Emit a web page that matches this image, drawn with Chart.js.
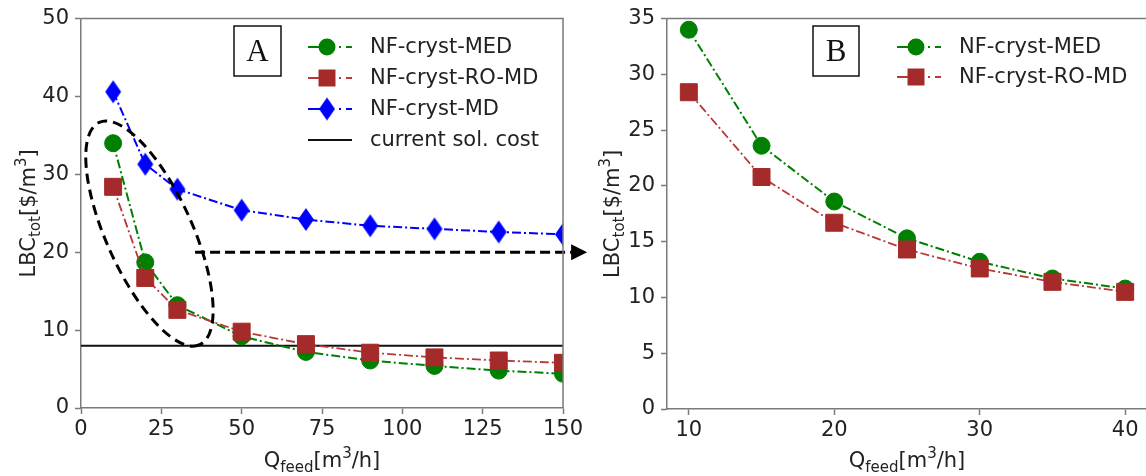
<!DOCTYPE html>
<html><head><meta charset="utf-8">
<script src="https://cdn.jsdelivr.net/npm/chart.js@4.4.0/dist/chart.umd.min.js"></script>
<style>
html,body{margin:0;padding:0;width:1146px;height:476px;overflow:hidden;background:#fff;}
#ca{position:absolute;left:0;top:0;}
#cb{position:absolute;left:580px;top:0;}
</style></head><body>
<canvas id="ca" width="600" height="476"></canvas>
<canvas id="cb" width="580" height="476"></canvas>
<script>
// ---- data ----
const qFeedA = [10, 20, 30, 50, 70, 90, 110, 130, 150];
const medA   = [34.0, 18.7, 13.2, 9.2, 7.2, 6.1, 5.4, 4.8, 4.4];
const roMdA  = [28.4, 16.7, 12.6, 9.8, 8.2, 7.1, 6.5, 6.1, 5.8];
const mdA    = [40.6, 31.3, 28.1, 25.4, 24.2, 23.4, 23.0, 22.6, 22.3];
const currentSolCost = 8;
const qFeedB = [10, 15, 20, 25, 30, 35, 40];
const medB   = [34.0, 23.6, 18.6, 15.3, 13.2, 11.7, 10.8];
const roMdB  = [28.4, 20.8, 16.7, 14.3, 12.6, 11.4, 10.5];
const xTicksA = [0, 25, 50, 75, 100, 125, 150];
const yTicksA = [0, 10, 20, 30, 40, 50];
const xTicksB = [10, 20, 30, 40];
const yTicksB = [0, 5, 10, 15, 20, 25, 30, 35];
const seriesNames = ['NF-cryst-MED', 'NF-cryst-RO-MD', 'NF-cryst-MD', 'current sol. cost'];
const panelLabels = ['A', 'B'];

// ---- styles ----
const SPINE = '#7a7a7a', TXT = '#222';
const FONT = '"DejaVu Sans"';
const DASHDOT = [9, 3, 2, 3];
const GREEN = '#008000', RED = '#a52a2a', REDLINE = '#b83838', BLUE = '#0000ff';

function diamondImg(w, h, fill) {
  const c = document.createElement('canvas');
  c.width = w + 2; c.height = h + 2;
  const g = c.getContext('2d');
  g.beginPath();
  g.moveTo(c.width / 2, 1); g.lineTo(c.width - 1, c.height / 2);
  g.lineTo(c.width / 2, c.height - 1); g.lineTo(1, c.height / 2);
  g.closePath(); g.fillStyle = fill; g.fill();
  return c;
}
const DIAMOND = diamondImg(16, 23, BLUE);

const pts = (xs, ys) => xs.map((x, i) => ({x, y: ys[i]}));

const styleMED = {color: GREEN, line: GREEN, marker: 'circle', r: 8.5, bw: 2};
const styleRO  = {color: RED, line: REDLINE, marker: 'rect', r: 12, bw: 1.8};
const styleMD  = {color: BLUE, line: BLUE, marker: DIAMOND, r: 12, bw: 2};

function ds(label, data, st, order) {
  return {
    label, data, order, showLine: true,
    borderColor: st.line, borderWidth: st.bw, borderDash: DASHDOT,
    pointStyle: st.marker, pointRadius: st.r, pointHoverRadius: st.r,
    pointBackgroundColor: st.color, pointBorderColor: st.color, pointBorderWidth: 1
  };
}

function richWidth(ctx, parts) {
  let w = 0;
  for (const p of parts) { ctx.font = p.s + 'px ' + FONT; w += ctx.measureText(p.t).width; }
  return w;
}
function drawRich(ctx, parts, cx, cy, rot) {
  ctx.save();
  ctx.translate(cx, cy);
  if (rot) ctx.rotate(-Math.PI / 2);
  const w = richWidth(ctx, parts);
  let x = -w / 2;
  ctx.textBaseline = 'alphabetic'; ctx.textAlign = 'left'; ctx.fillStyle = TXT;
  for (const p of parts) {
    ctx.font = p.s + 'px ' + FONT;
    ctx.fillText(p.t, x, p.dy || 0);
    x += ctx.measureText(p.t).width;
  }
  ctx.restore();
}
const yTitle = [{t: 'LBC', s: 21}, {t: 'tot', s: 15, dy: 5}, {t: '[$/m', s: 21}, {t: '3', s: 15, dy: -9}, {t: ']', s: 21}];
const xTitle = [{t: 'Q', s: 21}, {t: 'feed', s: 15, dy: 5}, {t: '[m', s: 21}, {t: '3', s: 15, dy: -9}, {t: '/h]', s: 21}];

function drawMarker(ctx, st, x, y) {
  ctx.save();
  ctx.fillStyle = st.color;
  if (st.marker === 'circle') {
    ctx.beginPath(); ctx.arc(x, y, st.r, 0, Math.PI * 2); ctx.fill();
  } else if (st.marker === 'rect') {
    const s = st.r * Math.SQRT1_2;
    ctx.fillRect(x - s, y - s, 2 * s, 2 * s);
  } else {
    ctx.drawImage(st.marker, x - st.marker.width / 2, y - st.marker.height / 2);
  }
  ctx.restore();
}
function drawLegend(ctx, items, x0, y0, dy) {
  items.forEach((it, i) => {
    const y = y0 + i * dy;
    ctx.save();
    ctx.strokeStyle = it.st ? it.st.line : '#111';
    ctx.lineWidth = 2;
    ctx.setLineDash(it.st ? [26, 5, 2, 5] : []);
    ctx.beginPath(); ctx.moveTo(x0, y); ctx.lineTo(x0 + 44, y); ctx.stroke();
    ctx.restore();
    if (it.st) drawMarker(ctx, it.st, x0 + 19, y);
    ctx.save();
    ctx.font = '21px ' + FONT; ctx.fillStyle = TXT;
    ctx.textBaseline = 'middle'; ctx.textAlign = 'left';
    ctx.fillText(it.label, x0 + 62, y + 1);
    ctx.restore();
  });
}
function drawBox(ctx, letter, x, y, w, h) {
  ctx.save();
  ctx.strokeStyle = '#111'; ctx.lineWidth = 1.5;
  ctx.strokeRect(x, y, w, h);
  ctx.font = '31px "Liberation Serif"'; ctx.fillStyle = '#111';
  ctx.textAlign = 'center'; ctx.textBaseline = 'middle';
  ctx.fillText(letter, x + w / 2, y + h / 2 + 2);
  ctx.restore();
}
function drawSpines(chart) {
  const {ctx, chartArea: a} = chart;
  ctx.save();
  ctx.strokeStyle = SPINE; ctx.lineWidth = 1.5;
  ctx.beginPath();
  ctx.moveTo(a.left, a.top); ctx.lineTo(a.right, a.top); ctx.lineTo(a.right, a.bottom);
  ctx.stroke();
  ctx.restore();
}

function axisOpts(min, max, ticksArr, isX, size) {
  return {
    type: 'linear', min, max,
    afterBuildTicks: s => { s.ticks = ticksArr.map(v => ({value: v})); },
    afterFit: s => { if (isX) s.height = size; else s.width = size; },
    grid: {drawOnChartArea: false, drawTicks: true, tickLength: 6, tickWidth: 1.5, tickColor: SPINE, color: SPINE},
    border: {display: true, color: SPINE, width: 1.5},
    ticks: {color: TXT, font: {family: 'DejaVu Sans', size: 21}, padding: isX ? 3 : 6, maxRotation: 0, autoSkip: false}
  };
}

const annoA = {
  id: 'annoA',
  afterDatasetsDraw(chart) {
    const {ctx, scales: {x, y}} = chart;
    // dashed ellipse around the low-flow region
    ctx.save();
    ctx.strokeStyle = '#000'; ctx.lineWidth = 3; ctx.setLineDash([10, 6]);
    ctx.beginPath();
    ctx.ellipse(x.getPixelForValue(21.3), y.getPixelForValue(22.4), 122, 43, 65.7 * Math.PI / 180, 0, Math.PI * 2);
    ctx.stroke();
    // dashed arrow to panel B
    const ay = y.getPixelForValue(20);
    const x1 = x.getPixelForValue(35.5), tip = x.getPixelForValue(157.5);
    ctx.setLineDash([10, 5]);
    ctx.beginPath(); ctx.moveTo(x1, ay); ctx.lineTo(tip - 14, ay); ctx.stroke();
    ctx.setLineDash([]);
    ctx.fillStyle = '#000';
    ctx.beginPath(); ctx.moveTo(tip, ay); ctx.lineTo(tip - 16, ay - 8); ctx.lineTo(tip - 16, ay + 8); ctx.closePath(); ctx.fill();
    ctx.restore();
  },
  afterDraw(chart) {
    const ctx = chart.ctx, a = chart.chartArea;
    drawSpines(chart);
    drawRich(ctx, yTitle, 35, (a.top + a.bottom) / 2, true);
    drawRich(ctx, xTitle, (a.left + a.right) / 2, 467, false);
    drawBox(ctx, panelLabels[0], 234, 26, 47, 50);
    drawLegend(ctx, [
      {st: styleMED, label: seriesNames[0]},
      {st: styleRO, label: seriesNames[1]},
      {st: styleMD, label: seriesNames[2]},
      {st: null, label: seriesNames[3]}
    ], 308, 47, 31);
  }
};
const annoB = {
  id: 'annoB',
  afterDraw(chart) {
    const ctx = chart.ctx, a = chart.chartArea;
    drawSpines(chart);
    drawRich(ctx, yTitle, 39, (a.top + a.bottom) / 2, true);
    drawRich(ctx, xTitle, (a.left + a.right) / 2, 467, false);
    drawBox(ctx, panelLabels[1], 233, 26, 46, 50);
    drawLegend(ctx, [
      {st: styleMED, label: seriesNames[0]},
      {st: styleRO, label: seriesNames[1]}
    ], 317, 47, 30);
  }
};

const common = {
  responsive: false, animation: false, devicePixelRatio: 1,
  plugins: {legend: {display: false}, tooltip: {enabled: false}, title: {display: false}},
  events: []
};

new Chart(document.getElementById('ca'), {
  type: 'scatter',
  data: {datasets: [
    {label: seriesNames[3], data: [{x: xTicksA[0], y: currentSolCost}, {x: xTicksA[xTicksA.length - 1], y: currentSolCost}],
     showLine: true, borderColor: '#111', borderWidth: 2, pointRadius: 0, order: 4},
    ds(seriesNames[0], pts(qFeedA, medA), styleMED, 3),
    ds(seriesNames[1], pts(qFeedA, roMdA), styleRO, 2),
    ds(seriesNames[2], pts(qFeedA, mdA), styleMD, 1)
  ]},
  options: Object.assign({}, common, {
    layout: {padding: {left: 0, top: 17, right: 37, bottom: 0}},
    scales: {
      x: axisOpts(0, 150, xTicksA, true, 68),
      y: axisOpts(0, 50, yTicksA, false, 81)
    }
  }),
  plugins: [annoA]
});

new Chart(document.getElementById('cb'), {
  type: 'scatter',
  data: {datasets: [
    ds(seriesNames[0], pts(qFeedB, medB), styleMED, 3),
    ds(seriesNames[1], pts(qFeedB, roMdB), styleRO, 2)
  ]},
  options: Object.assign({}, common, {
    layout: {padding: {left: 0, top: 17, right: 11, bottom: 0}},
    scales: {
      x: axisOpts(8.5, 41.5, xTicksB, true, 67),
      y: axisOpts(0, 35, yTicksB, false, 87)
    }
  }),
  plugins: [annoB]
});
</script>
</body></html>
